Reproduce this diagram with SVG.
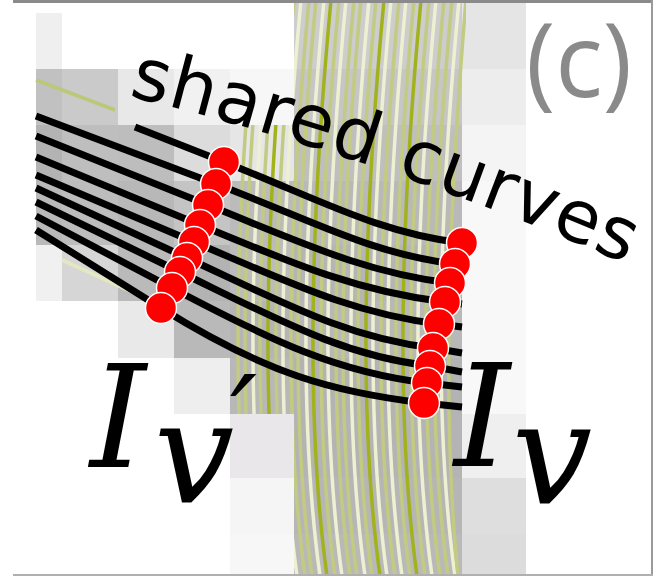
<svg xmlns="http://www.w3.org/2000/svg" width="653" height="576" viewBox="0 0 653 576">
<style>
.cell{stroke:none}
.g1{stroke:#c3ca82;stroke-width:3.5;fill:none}
.g2{stroke:#eef0d2;stroke-width:3.5;fill:none}
.g3{stroke:#a2b21a;stroke-width:3.5;fill:none}
.curve{stroke:#000;stroke-width:7;fill:none;stroke-linecap:butt}
.pt{fill:#ff0000;stroke:#ffffff;stroke-width:1.5}
.lbl{font-family:"DejaVu Sans",sans-serif;font-size:73px;fill:#000;letter-spacing:1px}
.math{font-family:"DejaVu Serif",serif;font-style:italic;fill:#000}
.tag{font-family:"Open Sans","DejaVu Sans",sans-serif;font-size:102px;fill:#8a8a8a}
</style>
<defs>
<clipPath id="bandclip">
<rect x="294" y="3" width="172" height="573"/>
<rect x="230" y="125" width="64" height="289"/>
</clipPath>
<path id="tp" d="M 128 96 Q 385 158 645 272"/>
</defs>
<rect width="653" height="576" fill="#ffffff"/>
<g id="background">
<rect class="cell" x="36" y="13" width="26" height="56" fill="#efefef"/>
<rect class="cell" x="294" y="3" width="168" height="66" fill="#cdcdcd"/>
<rect class="cell" x="462" y="3" width="64" height="66" fill="#e5e5e5"/>
<rect class="cell" x="36" y="69" width="26" height="56" fill="#c1c1c1"/>
<rect class="cell" x="62" y="69" width="56" height="56" fill="#cacaca"/>
<rect class="cell" x="118" y="69" width="56" height="56" fill="#e8e8e8"/>
<rect class="cell" x="174" y="69" width="56" height="56" fill="#f1f1f1"/>
<rect class="cell" x="230" y="69" width="64" height="56" fill="#f7f7f7"/>
<rect class="cell" x="294" y="69" width="168" height="56" fill="#c6c6c6"/>
<rect class="cell" x="462" y="69" width="64" height="56" fill="#ededed"/>
<rect class="cell" x="36" y="125" width="26" height="56" fill="#b3b3b3"/>
<rect class="cell" x="62" y="125" width="56" height="56" fill="#bebebe"/>
<rect class="cell" x="118" y="125" width="56" height="56" fill="#bdbdbd"/>
<rect class="cell" x="174" y="125" width="56" height="56" fill="#dcdcdc"/>
<rect class="cell" x="230" y="125" width="64" height="56" fill="#e6e6e6"/>
<rect class="cell" x="294" y="125" width="168" height="56" fill="#bfbfbf"/>
<rect class="cell" x="462" y="125" width="64" height="56" fill="#f4f4f4"/>
<rect class="cell" x="36" y="181" width="26" height="64" fill="#b9b9b9"/>
<rect class="cell" x="62" y="181" width="56" height="64" fill="#bdbdbd"/>
<rect class="cell" x="118" y="181" width="56" height="64" fill="#b8b8b8"/>
<rect class="cell" x="174" y="181" width="56" height="64" fill="#c4c4c4"/>
<rect class="cell" x="230" y="181" width="64" height="64" fill="#bbbbbb"/>
<rect class="cell" x="294" y="181" width="168" height="64" fill="#b9b9b9"/>
<rect class="cell" x="462" y="181" width="64" height="64" fill="#f8f8f8"/>
<rect class="cell" x="36" y="245" width="26" height="56" fill="#f0f0f0"/>
<rect class="cell" x="62" y="245" width="56" height="56" fill="#d6d6d6"/>
<rect class="cell" x="118" y="245" width="56" height="56" fill="#bababa"/>
<rect class="cell" x="174" y="245" width="56" height="56" fill="#b3b3b3"/>
<rect class="cell" x="230" y="245" width="64" height="56" fill="#bcbcbc"/>
<rect class="cell" x="294" y="245" width="168" height="56" fill="#b5b5b5"/>
<rect class="cell" x="462" y="245" width="64" height="56" fill="#f8f8f8"/>
<rect class="cell" x="118" y="301" width="56" height="57" fill="#e9e9e9"/>
<rect class="cell" x="174" y="301" width="56" height="57" fill="#b9b9b9"/>
<rect class="cell" x="230" y="301" width="64" height="57" fill="#b5b5b5"/>
<rect class="cell" x="294" y="301" width="168" height="57" fill="#b8b8b8"/>
<rect class="cell" x="462" y="301" width="64" height="57" fill="#f8f8f8"/>
<rect class="cell" x="174" y="358" width="56" height="56" fill="#eeeeee"/>
<rect class="cell" x="230" y="358" width="64" height="56" fill="#b8b8b8"/>
<rect class="cell" x="294" y="358" width="168" height="56" fill="#b3b3b3"/>
<rect class="cell" x="462" y="358" width="64" height="56" fill="#f8f8f8"/>
<rect class="cell" x="230" y="414" width="64" height="64" fill="#e9e7e9"/>
<rect class="cell" x="294" y="414" width="168" height="64" fill="#b4b4b4"/>
<rect class="cell" x="462" y="414" width="64" height="64" fill="#efefef"/>
<rect class="cell" x="230" y="478" width="64" height="56" fill="#f5f5f5"/>
<rect class="cell" x="294" y="478" width="168" height="56" fill="#b6b6b6"/>
<rect class="cell" x="462" y="478" width="64" height="56" fill="#dedede"/>
<rect class="cell" x="230" y="534" width="64" height="42" fill="#f7f7f7"/>
<rect class="cell" x="294" y="534" width="168" height="42" fill="#b9b9b9"/>
<rect class="cell" x="462" y="534" width="64" height="42" fill="#dcdcdc"/>
</g>
<g id="fibres" clip-path="url(#bandclip)">
<path class="g1" d="M 256 0 Q 222 360 252 576"/>
<path class="g1" d="M 263 0 Q 229 360 259 576"/>
<path class="g2" d="M 271 0 Q 237 360 267 576"/>
<path class="g1" d="M 278 0 Q 244 360 274 576"/>
<path class="g3" d="M 286 0 Q 252 360 282 576"/>
<path class="g1" d="M 294 0 Q 260 360 290 576"/>
<path class="g2" d="M 301 0 Q 267 360 297 576"/>
<path class="g1" d="M 309 0 Q 275 360 305 576"/>
<path class="g1" d="M 316 0 Q 282 360 312 576"/>
<path class="g2" d="M 324 0 Q 290 360 320 576"/>
<path class="g3" d="M 331 0 Q 297 360 327 576"/>
<path class="g1" d="M 339 0 Q 305 360 335 576"/>
<path class="g2" d="M 346 0 Q 312 360 342 576"/>
<path class="g1" d="M 354 0 Q 320 360 350 576"/>
<path class="g1" d="M 361 0 Q 327 360 357 576"/>
<path class="g2" d="M 369 0 Q 335 360 365 576"/>
<path class="g1" d="M 376 0 Q 342 360 372 576"/>
<path class="g3" d="M 384 0 Q 350 360 380 576"/>
<path class="g2" d="M 391 0 Q 357 360 387 576"/>
<path class="g1" d="M 399 0 Q 365 360 395 576"/>
<path class="g2" d="M 406 0 Q 372 360 402 576"/>
<path class="g1" d="M 414 0 Q 380 360 410 576"/>
<path class="g3" d="M 421 0 Q 387 360 417 576"/>
<path class="g1" d="M 429 0 Q 395 360 425 576"/>
<path class="g2" d="M 436 0 Q 402 360 432 576"/>
<path class="g1" d="M 444 0 Q 410 360 440 576"/>
<path class="g1" d="M 452 0 Q 418 360 448 576"/>
<path class="g2" d="M 459 0 Q 425 360 455 576"/>
<path class="g1" d="M 466 0 Q 436 360 458 576"/>
</g>
<g id="strays">
<line x1="36" y1="80" x2="115" y2="110" stroke="#bdc77a" stroke-width="4"/>
<line x1="62" y1="260" x2="150" y2="300" stroke="#e4e7bf" stroke-width="4"/>
</g>
<g id="connectors">
<path class="curve" d="M 135 127 L 224 162 C 319.2 199.4 378.7 233 462 243"/>
<path class="curve" d="M 36 116 L 216 184 C 311.6 220.1 371.4 254 455 264 L 462 265"/>
<path class="curve" d="M 36 136 L 208 205 C 304.8 243.8 365.3 272.8 450 283 L 462 284.4"/>
<path class="curve" d="M 36 157 L 200 225 C 298 265.7 359.3 291.7 445 302 L 462 304"/>
<path class="curve" d="M 36 175 L 194 242 C 292 283.6 353.3 313.7 439 324 L 462 327"/>
<path class="curve" d="M 36 188 L 187 258 C 285.4 303.7 346.9 337.7 433 348 L 462 353"/>
<path class="curve" d="M 36 202 L 180 272 C 280 320.6 342.5 355.5 430 366 L 462 372"/>
<path class="curve" d="M 36 216 L 172 288 C 274 342 337.8 372.3 427 383 L 462 387"/>
<path class="curve" d="M 36 230 L 161 308 C 266.2 373.6 331.9 392 424 403 L 462 407"/>
</g>
<g id="left-points">
<circle id="l1" class="pt" cx="224" cy="162" r="15.5"/>
<circle id="l2" class="pt" cx="216" cy="184" r="15.5"/>
<circle id="l3" class="pt" cx="208" cy="205" r="15.5"/>
<circle id="l4" class="pt" cx="200" cy="225" r="15.5"/>
<circle id="l5" class="pt" cx="194" cy="242" r="15.5"/>
<circle id="l6" class="pt" cx="187" cy="258" r="15.5"/>
<circle id="l7" class="pt" cx="180" cy="272" r="15.5"/>
<circle id="l8" class="pt" cx="172" cy="288" r="15.5"/>
<circle id="l9" class="pt" cx="161" cy="308" r="15.5"/>
</g>
<g id="right-points">
<circle id="r1" class="pt" cx="462" cy="243" r="15.5"/>
<circle id="r2" class="pt" cx="455" cy="264" r="15.5"/>
<circle id="r3" class="pt" cx="450" cy="283" r="15.5"/>
<circle id="r4" class="pt" cx="445" cy="302" r="15.5"/>
<circle id="r5" class="pt" cx="439" cy="324" r="15.5"/>
<circle id="r6" class="pt" cx="433" cy="348" r="15.5"/>
<circle id="r7" class="pt" cx="430" cy="366" r="15.5"/>
<circle id="r8" class="pt" cx="427" cy="383" r="15.5"/>
<circle id="r9" class="pt" cx="424" cy="403" r="15.5"/>
</g>
<g id="labels">
<text class="lbl"><textPath href="#tp">shared curves</textPath></text>
<text class="tag" x="526" y="97" textLength="106" lengthAdjust="spacingAndGlyphs">(c)</text>
<text id="ivprime" class="math" font-size="142" x="90" y="467">I<tspan x="154" y="503">v</tspan><tspan font-size="120" x="230" y="462">′</tspan></text>
<text id="iv" class="math" font-size="142" x="454" y="466">I<tspan x="512" y="504">v</tspan></text>
</g>
<g id="frame">
<line x1="13" y1="1.5" x2="653" y2="1.5" stroke="#8a8a8a" stroke-width="3"/>
<line x1="652" y1="0" x2="652" y2="576" stroke="#9a9a9a" stroke-width="2"/>
<line x1="13" y1="575" x2="653" y2="575" stroke="#b0b0b0" stroke-width="2"/>
</g>
</svg>
